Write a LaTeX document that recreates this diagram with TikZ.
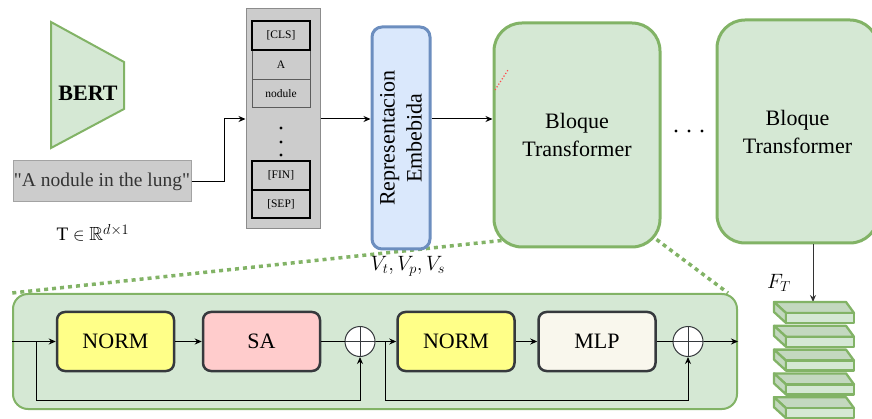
\documentclass[tikz,border=0pt]{standalone}
\usepackage{amssymb}
\usepackage{fontspec}
\setmainfont{Liberation Serif}
\newfontfamily\qfont{Liberation Serif}
\usetikzlibrary{arrows.meta,calc,backgrounds}

\definecolor{gfill}{HTML}{D5E8D4}
\definecolor{gline}{HTML}{82B366}
\definecolor{gtop}{HTML}{C3D8BF}
\definecolor{bfill}{HTML}{DAE8FC}
\definecolor{bline}{HTML}{6C8EBF}
\definecolor{tokfill}{HTML}{CCCCCC}
\definecolor{tokline}{HTML}{8C8C8C}
\definecolor{boxline}{HTML}{36393D}
\definecolor{yfill}{HTML}{FFFF88}
\definecolor{rfill}{HTML}{FFCCCC}
\definecolor{wfill}{HTML}{F9F7ED}
\definecolor{txtgray}{HTML}{333333}

\tikzset{
  conn/.style={line width=1pt, draw=black},
  arr/.style={conn, -{Stealth[length=7pt,width=6pt]}},
  bigfont/.style={font=\qfont\fontsize{22}{28}\selectfont},
  greenblk/.style={draw=gline, fill=gfill, line width=3pt, rounded corners=28pt,
    inner sep=0pt, bigfont, align=center},
  tokcol/.style={draw=tokline, fill=tokfill, line width=1pt, inner sep=0pt},
  tokthin/.style={draw=txtgray!80, fill=tokfill, line width=1pt, inner sep=0pt,
    minimum width=58pt, font=\qfont\fontsize{11.5}{13}\selectfont},
  tokthick/.style={tokthin, draw=black, line width=2pt},
  stagebox/.style={draw=boxline, line width=2.5pt, rounded corners=8pt, inner sep=0pt,
    minimum width=117pt, minimum height=59pt, bigfont},
  sumnode/.style={circle, draw=boxline, fill=white, line width=1pt, minimum size=30pt, inner sep=0pt},
  zoomline/.style={draw=gline, line width=3.5pt, dash pattern=on 4pt off 4pt},
}

\begin{document}
\begin{tikzpicture}[x=1pt,y=-1pt]
\useasboundingbox (0,0) rectangle (872,419);

% BERT encoder
\draw[draw=gline, fill=gfill, line width=2pt] (51,22) -- (124,62) -- (124,109) -- (51,148) -- cycle;
\node[font=\qfont\bfseries\fontsize{22}{26}\selectfont] (bert) at (88,93) {BERT};

% input sentence
\node[draw=tokline!80, fill=tokfill, line width=1pt, inner sep=0pt,
      minimum width=178pt, minimum height=41pt, text=txtgray,
      font=\qfont\fontsize{19.5}{22}\selectfont] (quote) at (102,181.5) {"A nodule in the lung"};
\node[font=\fontsize{19}{22}\selectfont] (tlabel) at (93,233) {$\mathrm{T}\in\mathbb{R}^{d\times 1}$};

% token column
\node[tokcol, minimum width=74pt, minimum height=220pt] (tok) at (283,119) {};
\node[tokthin, minimum height=30pt] (tA) at (281,65) {A};
\node[tokthin, minimum height=28pt] (tnod) at (281,94) {nodule};
\node[tokthick, minimum height=29pt] (tcls) at (281,35.5) {[CLS]};
\node[tokthick, minimum height=29pt] (tfin) at (281,175.5) {[FIN]};
\node[tokthick, minimum height=28pt] (tsep) at (281,204) {[SEP]};
\foreach \yy in {128,142,155} \fill (281,\yy) circle (1.6pt);

% embedding
\node[draw=bline, fill=bfill, line width=3pt, rounded corners=10pt, inner sep=0pt,
      minimum width=58pt, minimum height=222pt] (repr) at (401,138) {};
\node[rotate=90, align=center, font=\qfont\fontsize{22}{27}\selectfont] (reprtxt) at (repr.center) {Representacion\\Embebida};
\node[font=\fontsize{20}{24}\selectfont] (vlabel) at (408,266) {$V_t, V_p, V_s$};

% transformer blocks
\node[greenblk, minimum width=166pt, minimum height=224pt] (blk1) at (577,135) {Bloque\\Transformer};
\node[greenblk, minimum width=161pt, minimum height=223pt] (blk2) at (797.5,131.5) {Bloque\\Transformer};
\foreach \xx in {676,689,702} \fill (\xx,131) circle (1.6pt);
\draw[draw=red!70, dotted, line width=1.2pt] (495,90) -- (508,70);

% connectors in the top row
\draw[arr] (quote.east) -- ++(33,0) |- (tok.west);
\draw[arr] (tok.east) -- (tok.east -| repr.west);
\draw[arr] (tok.east -| repr.east) -- (tok.east -| blk1.west);

% expanded view of one block
\node[draw=gline, fill=gfill, line width=2pt, rounded corners=15pt, inner sep=0pt,
      minimum width=724pt, minimum height=115pt] (panel) at (375,351.5) {};
\begin{scope}[on background layer]
  \draw[zoomline] ($(blk1.south west)+(9,-8)$) -- (panel.north west);
  \draw[zoomline] ($(blk1.south east)+(-5,-9)$) -- ($(panel.north east)+(-10,0)$);
\end{scope}

\node[stagebox, fill=yfill] (norm1) at (115.5,341.5) {NORM};
\node[stagebox, fill=rfill] (sa) at (261.5,341.5) {SA};
\node[sumnode] (c1) at (360,341.5) {};
\node[stagebox, fill=yfill] (norm2) at (456,341.5) {NORM};
\node[stagebox, fill=wfill] (mlp) at (597,341.5) {MLP};
\node[sumnode] (c2) at (688,341.5) {};
\foreach \c in {c1,c2} {
  \draw[draw=boxline, line width=1pt] (\c.north) -- (\c.south) (\c.west) -- (\c.east);
}
\coordinate (br1) at (36,341.5);
\coordinate (br2) at (385,341.5);

\draw[arr] (panel.west |- norm1.west) -- (norm1.west);
\draw[arr] (br1) -- ++(0,58.5) -| (c1.south);
\draw[arr] (norm1) -- (sa);
\draw[conn] (sa) -- (c1);
\draw[arr] (c1) -- (norm2);
\draw[arr] (br2) -- ++(0,58.5) -| (c2.south);
\draw[arr] (norm2) -- (mlp);
\draw[conn] (mlp) -- (c2);
\draw[arr] (c2) -- (c2 -| panel.east);

% output feature stack
\coordinate (stacktop) at (813,302);
\draw[arr, draw=txtgray] (blk2.south -| stacktop) -- (stacktop);
\node[font=\fontsize{20}{24}\selectfont] (flabel) at (779,283) {$F_T$};
\foreach \i in {0,...,4} {
  \pgfmathsetmacro{\yt}{302+23.8*\i}
  \begin{scope}[shift={(0,\yt)}, draw=gline, line width=2.3pt, line join=round]
    \filldraw[fill=gtop] (774,0) -- (846,0) -- (854,11) -- (786,11) -- cycle;
    \filldraw[fill=gtop] (774,0) -- (786,11) -- (786,21) -- (774,10) -- cycle;
    \filldraw[fill=gfill] (786,11) rectangle (854,21);
  \end{scope}
}
\end{tikzpicture}
\end{document}
